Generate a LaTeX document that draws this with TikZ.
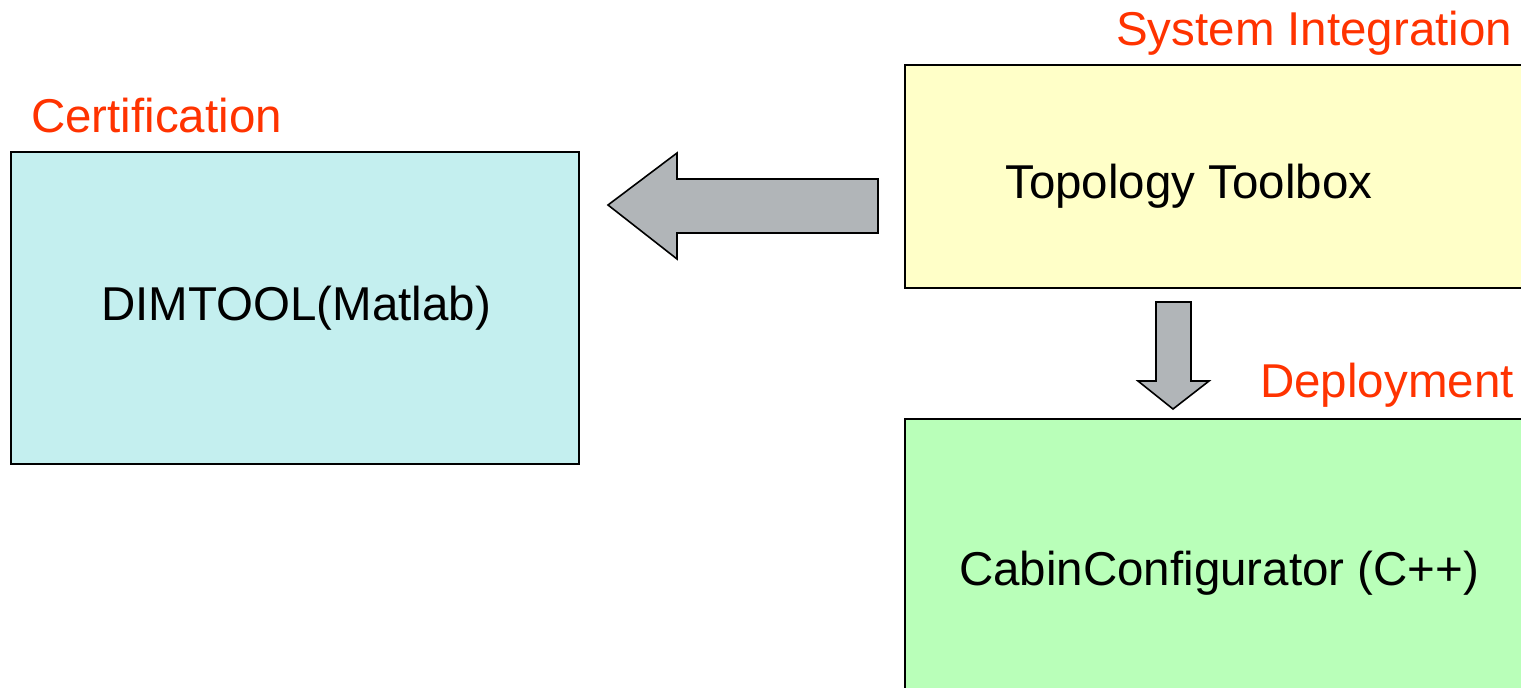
\documentclass[tikz,border=0pt]{standalone}
\usepackage{fontspec}
\setmainfont{Liberation Sans}
\definecolor{certfill}{HTML}{C4EFEF}
\definecolor{topofill}{HTML}{FFFFC8}
\definecolor{cabinfill}{HTML}{B9FFB9}
\definecolor{arrowfill}{HTML}{B1B5B8}
\definecolor{phasered}{HTML}{FF3300}
\tikzset{
  toolbox/.style={draw=black, line width=1.6pt},
  blockarrow/.style={draw=black, line width=1.6pt, fill=arrowfill, line join=miter},
  phase/.style={text=phasered, anchor=base west, inner sep=0pt, font=\fontsize{47.5}{57}\selectfont},
  tooltext/.style={text=black, anchor=base west, inner sep=0pt, font=\fontsize{47.5}{57}\selectfont},
}
\begin{document}
\begin{tikzpicture}[x=1pt, y=-1pt]
\useasboundingbox (0,0) rectangle (1521,688);
\clip (0,0) rectangle (1521,688);

% tool boxes (the right-hand ones run past the page edge)
\fill[white] (0,0) rectangle (1521,688);
\draw[toolbox, fill=certfill]  (11,152) rectangle (579,464);
\draw[toolbox, fill=topofill]  (905,65) rectangle (1540,288);
\draw[toolbox, fill=cabinfill] (905,419) rectangle (1540,720);

% box contents
\node[tooltext] (dim)   at (101,320) {DIMTOOL(Matlab)};
\node[tooltext] (topo)  at (1005,198) {Topology Toolbox};
\node[tooltext] (cabin) at (959,585) {CabinConfigurator (C++)};

% phase labels
\node[phase] (cert)   at (31,132)   {Certification};
\node[phase] (sysint) at (1116,45)  {System Integration};
\node[phase] (deploy) at (1260,397) {Deployment};

% block arrow: topology -> certification
\draw[blockarrow] (878,179) -- (677,179) -- (677,153) -- (608,205)
  -- (677,259) -- (677,233) -- (878,233) -- cycle;

% block arrow: topology -> deployment
\draw[blockarrow] (1156,302) -- (1191,302) -- (1191,381) -- (1209,381)
  -- (1173,409) -- (1138,381) -- (1156,381) -- cycle;
\end{tikzpicture}
\end{document}
